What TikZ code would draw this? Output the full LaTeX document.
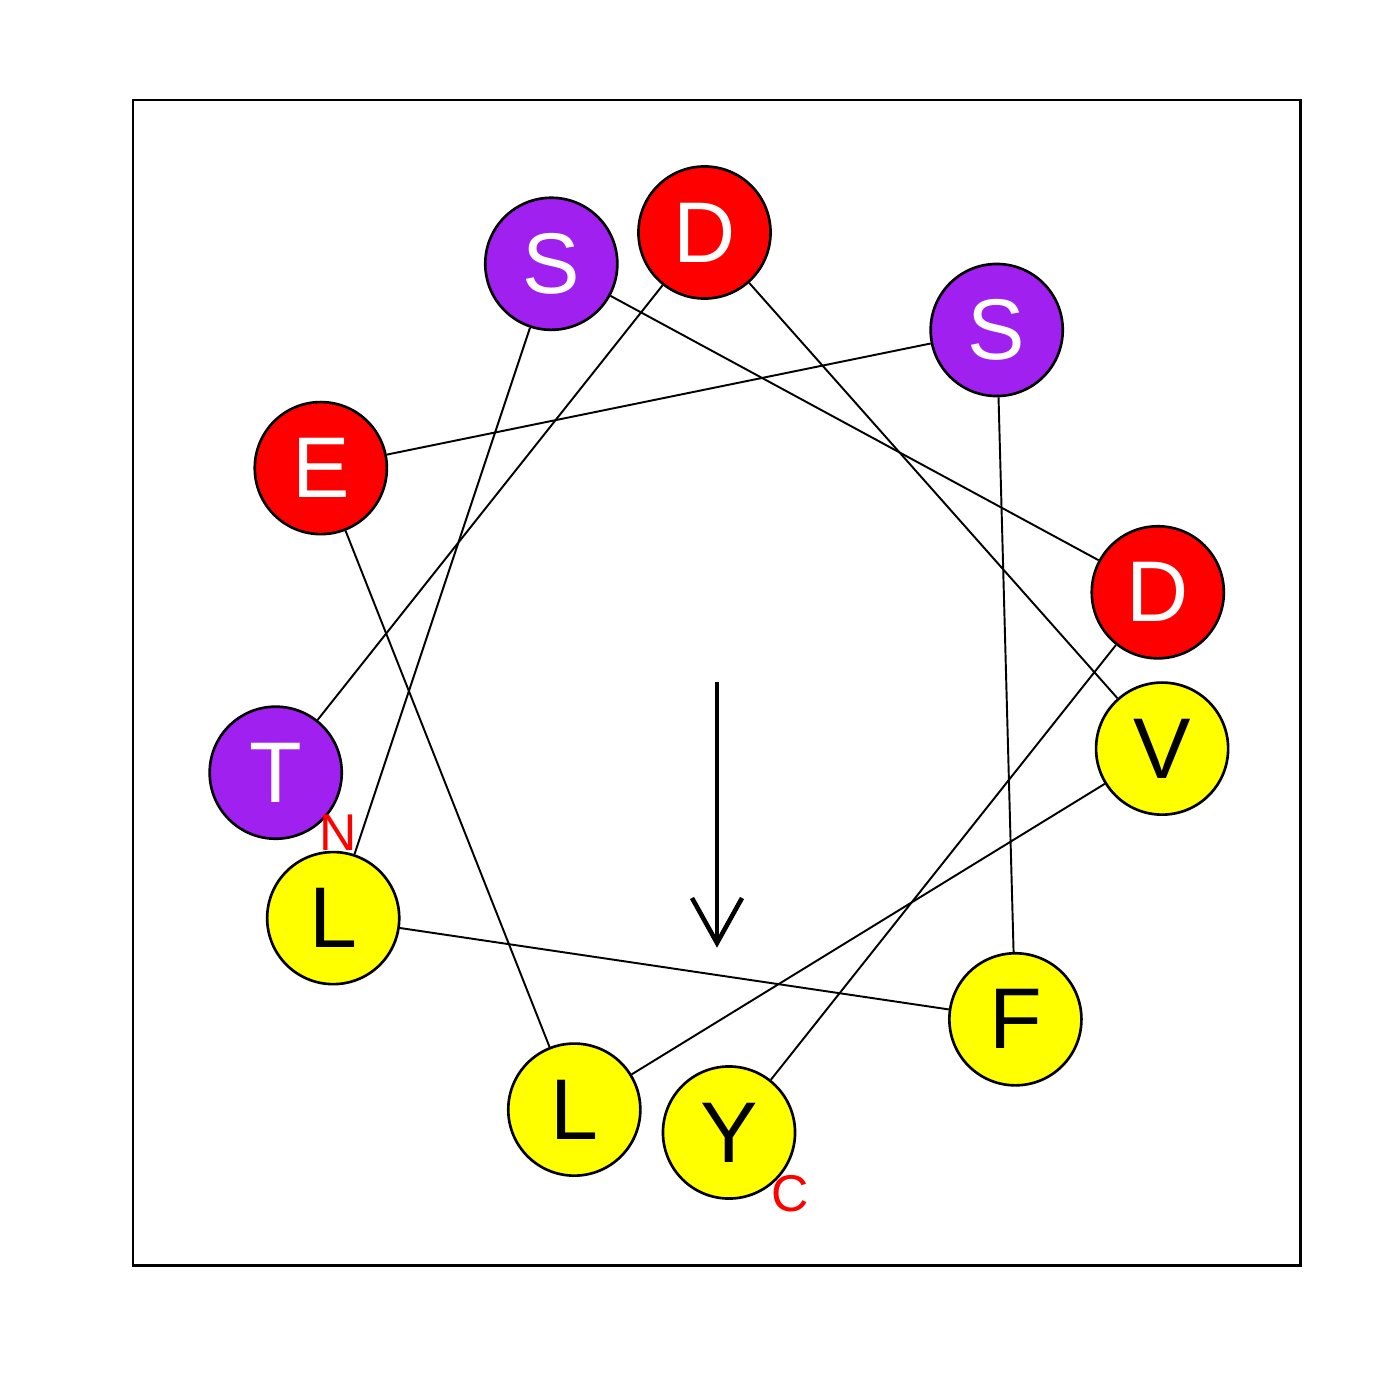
\documentclass[tikz,border=0pt]{standalone}
\usepackage{fontspec}
\setmainfont{Liberation Sans}
\definecolor{aared}{HTML}{FF0000}
\definecolor{aapurple}{HTML}{A020F0}
\definecolor{aayellow}{HTML}{FFFF00}
\begin{document}
\begin{tikzpicture}[x=0.01cm,y=-0.01cm,
  res/.style={circle,draw=black,line width=0.75pt,minimum size=1.32cm,inner sep=0pt,
    font=\fontsize{24.5}{29}\selectfont},
  acid/.style={res,fill=aared,text=white},
  polar/.style={res,fill=aapurple,text=white},
  hydro/.style={res,fill=aayellow,text=black},
  link/.style={line width=0.55pt,black},
  termlabel/.style={text=aared,inner sep=0pt,font=\fontsize{14.7}{17}\selectfont},
  moment/.style={line width=1.3pt,black}]
\useasboundingbox (0,0) rectangle (1400,1400);
\draw[line width=0.85pt] (133,100) rectangle (1300,1265);
% residues in sequence order
\node[polar] (r0) at (275.7,772.7) {T};
\node[acid]  (r1) at (704.5,232.5) {D};
\node[hydro] (r2) at (1162.1,748.6) {V};
\node[hydro] (r3) at (574.3,1109.6) {L};
\node[acid]  (r4) at (320.8,468.1) {E};
\node[polar] (r5) at (996.7,330.0) {S};
\node[hydro] (r6) at (1015.4,1019.3) {F};
\node[hydro] (r7) at (333.2,918.1) {L};
\node[polar] (r8) at (551.3,263.8) {S};
\node[acid]  (r9) at (1157.8,592.3) {D};
\node[hydro] (r10) at (729.0,1132.5) {Y};
% backbone connectors
\draw[link] (r0) -- (r1);
\draw[link] (r1) -- (r2);
\draw[link] (r2) -- (r3);
\draw[link] (r3) -- (r4);
\draw[link] (r4) -- (r5);
\draw[link] (r5) -- (r6);
\draw[link] (r6) -- (r7);
\draw[link] (r7) -- (r8);
\draw[link] (r8) -- (r9);
\draw[link] (r9) -- (r10);
% terminus labels
\node[termlabel] (nterm) at (338,833) {N};
\node[termlabel] (cterm) at (790,1194) {C};
% hydrophobic moment arrow
\coordinate (hm0) at (717,682);
\coordinate (hm1) at (717,943);
\coordinate (hmL) at (692,898);
\coordinate (hmR) at (742,898);
\draw[moment] (hm0) -- (hm1);
\draw[moment] (hmL) -- (hm1) -- (hmR);
\end{tikzpicture}
\end{document}
